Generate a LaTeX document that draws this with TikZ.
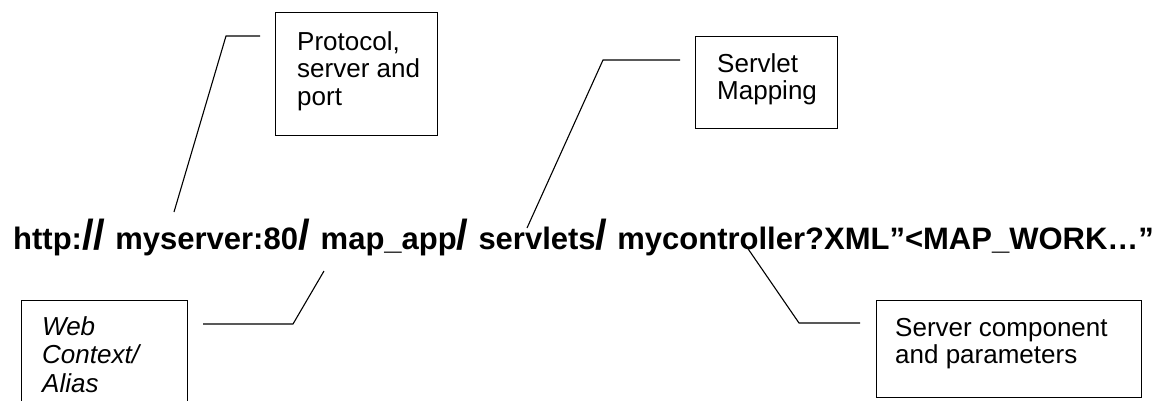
\documentclass[tikz,border=0pt]{standalone}
\usepackage{fontspec}
\setmainfont{Liberation Sans}
% oversized separator slash used inside the URL
\newcommand\urlsl{{\fontsize{42}{42}\selectfont/}}
\begin{document}
\begin{tikzpicture}[x=1pt,y=-1pt,
  box/.style={draw, line width=1.4pt, inner sep=0pt, anchor=north west},
  lbl/.style={font=\fontsize{26}{27.5}\selectfont, align=left, anchor=north west, inner sep=0pt},
  lead/.style={line width=1.1pt}]
\useasboundingbox (0,0) rectangle (1173,400);
\fill[white] (0,0) rectangle (1173,400);

% the URL
\node[anchor=base west, inner sep=0pt, font=\fontsize{31}{37}\selectfont\bfseries] (url) at (13,249)
  {http:\urlsl\urlsl\kern10pt myserver:80\urlsl\kern11pt map\_app\urlsl\kern10pt servlets\urlsl\kern10pt mycontroller?XML”<MAP\_WORK…”};

% annotation boxes
\node[box, minimum width=162pt, minimum height=123pt] (proto) at (275,12) {};
\node[lbl] (protot) at (297,31) {Protocol,\\server and\\port};

\node[box, minimum width=142pt, minimum height=92pt] (map) at (695,36) {};
\node[lbl] (mapt) at (717,53) {Servlet\\Mapping};

\begin{scope}
\clip (0,0) rectangle (1173,400);
\node[box, minimum width=166pt, minimum height=115pt] (ctx) at (21,300) {};
\end{scope}
\node[lbl, font=\fontsize{26}{28.5}\selectfont\itshape] (ctxt) at (42,316) {Web\\Context/\\Alias};

\node[box, minimum width=265pt, minimum height=97pt] (comp) at (876,300) {};
\node[lbl] (compt) at (895,318) {Server component\\and parameters};

% leader lines
\coordinate (p1) at (174,212);
\coordinate (p1k) at (226,36);
\coordinate (p1e) at (260,36);
\draw[lead] (p1) -- (p1k) -- (p1e);

\coordinate (s1) at (527,228);
\coordinate (s1k) at (603,60);
\coordinate (s1e) at (680,60);
\draw[lead] (s1) -- (s1k) -- (s1e);

\coordinate (w1) at (324,271);
\coordinate (w1k) at (293,324);
\coordinate (w1e) at (203,324);
\draw[lead] (w1) -- (w1k) -- (w1e);

\coordinate (c1) at (742,240);
\coordinate (c1k) at (799,323);
\coordinate (c1e) at (860,323);
\draw[lead] (c1) -- (c1k) -- (c1e);
\end{tikzpicture}
\end{document}
